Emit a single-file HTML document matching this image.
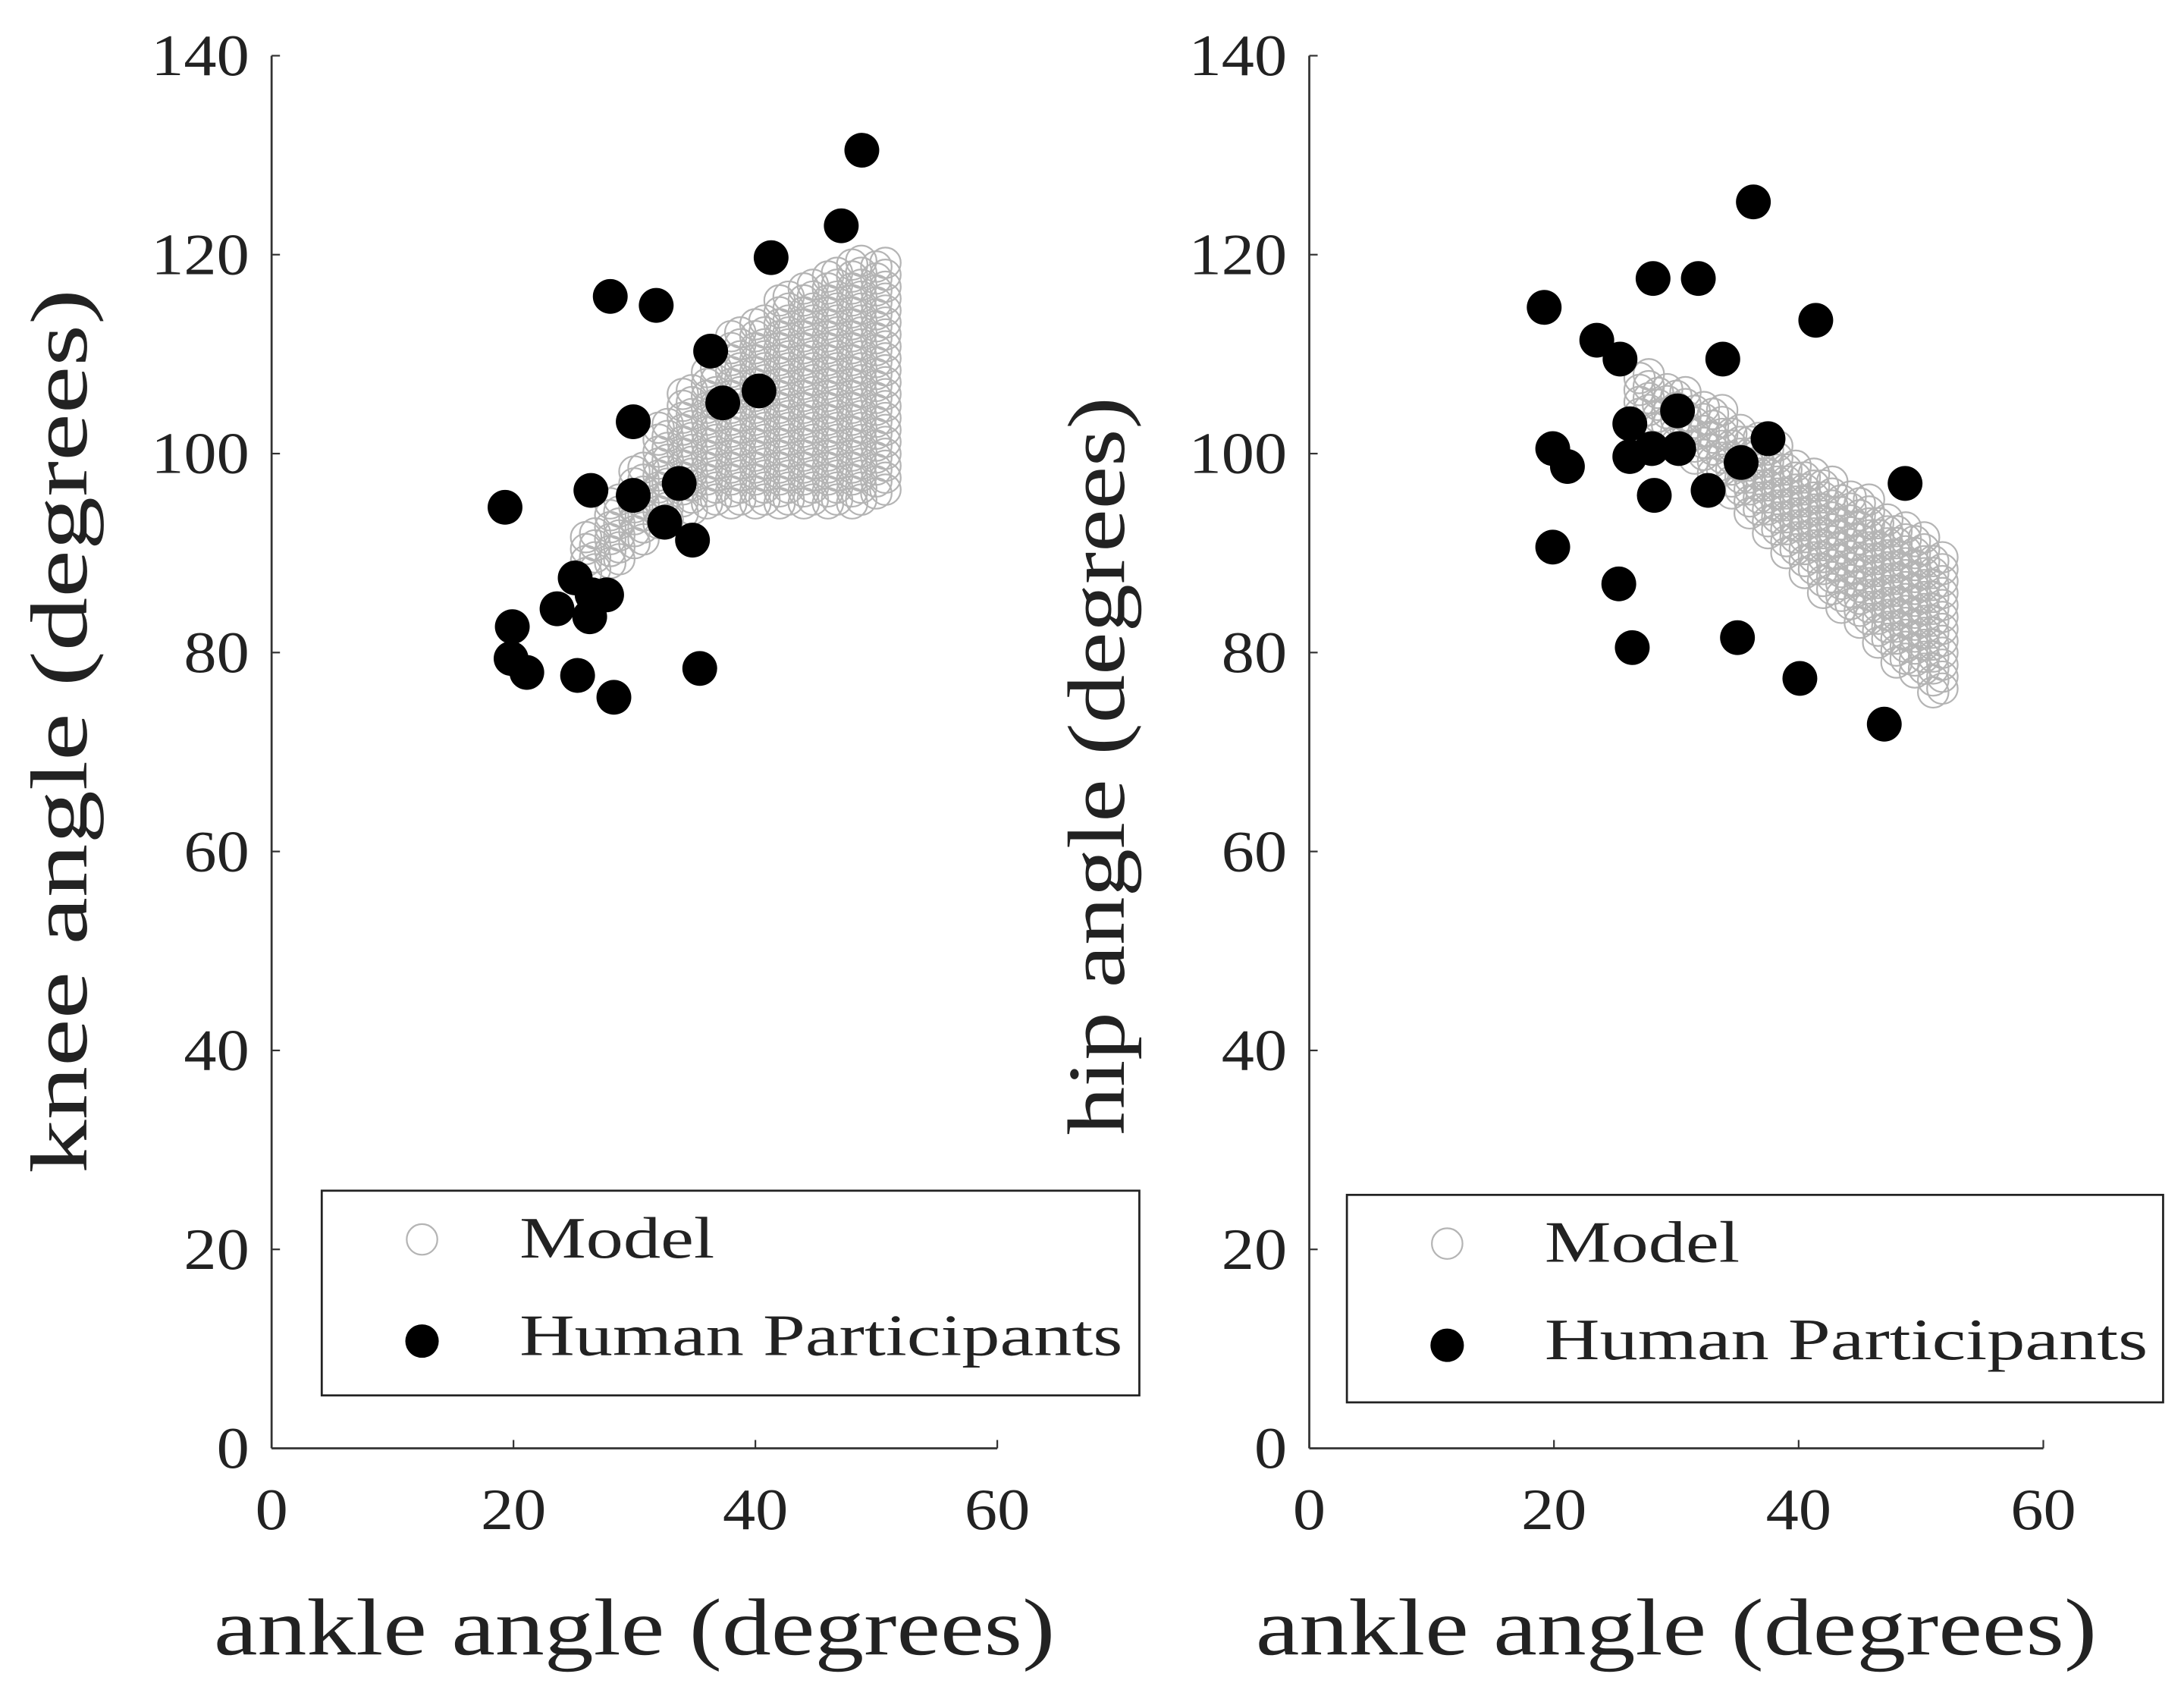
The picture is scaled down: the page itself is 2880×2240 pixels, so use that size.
<!DOCTYPE html>
<html><head><meta charset="utf-8"><style>
html,body{margin:0;padding:0;background:#fff}
svg{display:block}
text{font-family:"Liberation Serif",serif;fill:#222}
</style></head><body>
<svg id="chart" width="2880" height="2240" viewBox="0 0 1568 1220" preserveAspectRatio="none" xmlns="http://www.w3.org/2000/svg"></svg>
<script>
const xTicks=[0,20,40,60];
const yTicks=[0,20,40,60,80,100,120,140];
// Left panel: human participants
const leftHumanAnkle=[19.3,19.9,19.8,21.1,23.6,25.1,26.5,26.3,27.7,25.3,28.3,26.4,28,31.8,29.9,29.9,32.5,33.7,34.8,35.4,36.3,37.3,40.3,41.3,47.1,48.8];
const leftHumanKnee=[94.6,82.6,79.4,78,84.4,87.5,85.8,83.6,85.8,77.7,75.5,96.3,115.8,114.9,103.2,95.8,93.1,97,91.3,78.4,110.3,105.1,106.3,119.7,122.9,130.5];
// Left panel: model columns
const leftModelAnkle=[26,28,30,32,34,36,38,40,42,44,46,48,50];
const leftModelMin=[88,89,91,93,94,95,95,95,95,95,95,95,96];
const leftModelMax=[92,95,99,103,106,109,112,114,116,117,118,119,119];
// Right panel: human participants
const rightHumanAnkle=[19.2,23.5,25.4,19.9,21.1,19.9,25.3,26.4,28.1,31.8,36.3,41.4,33.8,30.1,26.2,26.2,28,30.2,28.2,32.6,35.3,37.5,35,40.1,47,48.7];
const rightHumanHip=[114.7,111.4,109.5,100.5,98.7,90.6,86.9,80.5,117.6,117.6,125.3,113.4,109.5,104.3,103,99.7,100.5,100.5,95.8,96.3,99.1,101.5,81.5,77.4,72.8,97];
// Right panel: model columns
const rightModelAnkle=[27,28.5,30,31.5,33,34.5,36,37.5,39,40.5,42,43.5,45,46.5,48,49.5,51];
const rightModelMin=[104,102.5,101,99.5,98,96,94,92,90,88,86,84.5,83,81,79,78,76];
const rightModelMax=[108,107,106,105,104,103,102,100.5,99,98,97,96,95,94,93,92,90];

const NS="http://www.w3.org/2000/svg";
const svg=document.getElementById('chart');
function el(t,a,p){const e=document.createElementNS(NS,t);for(const k in a)e.setAttribute(k,a[k]);(p||svg).appendChild(e);return e;}

function panel(name,x0,x1,yTitle,yTitleLen,hA,hV,mA,mMin,mMax,leg){
  const y0=1040,y1=40;
  const sx=v=>x0+(x1-x0)*v/60, sy=v=>y0-(y0-y1)*v/140;
  const g=el('g',{});
  
  
  const ax=el('g',{},g);
  
  
  el('line',{x1:x0,y1:y1,x2:x0,y2:y0,stroke:'#333','stroke-width':1.5},ax);
  el('line',{x1:x0,y1:y0,x2:x1,y2:y0,stroke:'#333','stroke-width':1.5},ax);
  yTicks.forEach(v=>{
    el('line',{x1:x0,y1:sy(v),x2:x0+6,y2:sy(v),stroke:'#333','stroke-width':1.2},ax);
    const s=String(v);
    const t=el('text',{x:x0-16,y:sy(v)+14,'text-anchor':'end','font-size':42,textLength:s.length*23.5,lengthAdjust:'spacingAndGlyphs'},ax);t.textContent=s;
    
    
  });
  xTicks.forEach(v=>{
    el('line',{x1:sx(v),y1:y0,x2:sx(v),y2:y0-6,stroke:'#333','stroke-width':1.2},ax);
    const s=String(v);
    const t=el('text',{x:sx(v),y:y0+58,'text-anchor':'middle','font-size':42,textLength:s.length*23.5,lengthAdjust:'spacingAndGlyphs'},ax);t.textContent=s;
    
    
  });
  const xt=el('text',{x:(x0+x1)/2,y:1188,'text-anchor':'middle','font-size':58,textLength:604,lengthAdjust:'spacingAndGlyphs'},g);xt.textContent='ankle angle (degrees)';
  
  
  const yt=el('text',{x:0,y:0,'text-anchor':'middle','font-size':58,textLength:yTitleLen,lengthAdjust:'spacingAndGlyphs',transform:`translate(${x0-133},${yTitle.startsWith('knee')?525:550}) rotate(-90)`},g);yt.textContent=yTitle;
  
  
  const mg=el('g',{},g);
  
  
  mA.forEach((a,i)=>{
    for(let v=mMin[i];v<=mMax[i]+0.01;v+=1.2){
      for(const d of [0,0.75]){
        const c=el('circle',{cx:sx(a+d),cy:sy(v+d*0.5),r:11,fill:'none',stroke:'#b4b4b4','stroke-width':1.2},mg);
        
        
      }
    }
  });
  const hg=el('g',{},g);
  
  
  hA.forEach((a,i)=>{
    const c=el('circle',{cx:sx(a),cy:sy(hV[i]),r:12.5,fill:'#000'},hg);
    
    
  });
  const lg=el('g',{},g);
  
  
  el('rect',{x:leg[0],y:leg[1],width:leg[2],height:leg[3],fill:'#fff',stroke:'#222','stroke-width':1.5},lg);
  const c1=el('circle',{cx:leg[0]+72,cy:leg[1]+35,r:11,fill:'none',stroke:'#b4b4b4','stroke-width':1.2},lg);
  
  
  const t1=el('text',{x:leg[0]+142,y:leg[1]+48,'font-size':42,textLength:140,lengthAdjust:'spacingAndGlyphs'},lg);t1.textContent='Model';
  
  
  const c2=el('circle',{cx:leg[0]+72,cy:leg[1]+108,r:12,fill:'#000'},lg);
  
  
  const t2=el('text',{x:leg[0]+142,y:leg[1]+118,'font-size':42,textLength:433,lengthAdjust:'spacingAndGlyphs'},lg);t2.textContent='Human Participants';
  
  
}
panel('knee-panel',195,716,'knee angle (degrees)',635,leftHumanAnkle,leftHumanKnee,leftModelAnkle,leftModelMin,leftModelMax,[231,855,587,147]);
panel('hip-panel',940,1467,'hip angle (degrees)',530,rightHumanAnkle,rightHumanHip,rightModelAnkle,rightModelMin,rightModelMax,[967,858,586,149]);
</script>
</body></html>
